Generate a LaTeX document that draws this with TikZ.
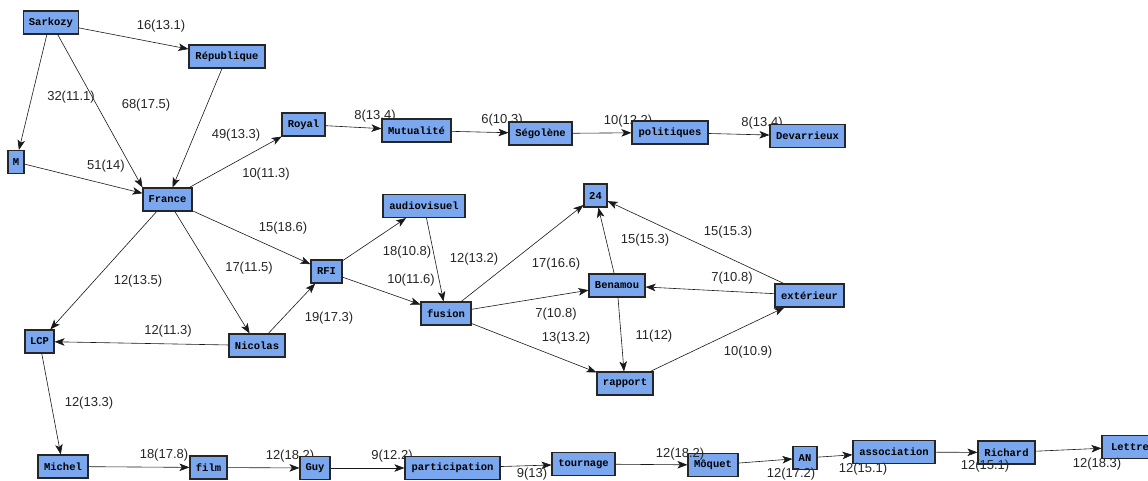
\documentclass[tikz,border=0pt]{standalone}
\usepackage{fontspec}
\setmainfont{Liberation Sans}
\setmonofont{Liberation Mono}
\usetikzlibrary{arrows.meta}
\definecolor{boxblue}{RGB}{122,167,238}
\begin{document}
\begin{tikzpicture}[x=1pt,y=-1pt,
  box/.style={draw=black!85, line width=1.1pt, fill=boxblue, font=\ttfamily\bfseries\fontsize{10.5}{12}\selectfont, minimum height=23pt, inner sep=0pt},
  lab/.style={font=\fontsize{13}{15}\selectfont, inner sep=0pt, text=black!85},
  arr/.style={-{Stealth[length=10pt,width=7.5pt,inset=2.5pt]}, line width=0.6pt, draw=black!90}]
\useasboundingbox (0,0) rectangle (1148,480);
\clip (0,0) rectangle (1148,480);
\fill[white] (0,0) rectangle (1148,480);
% nodes
\node[box, minimum width=55pt] (sarkozy) at (51,22.5) {Sarkozy};
\node[box, minimum width=76pt] (republique) at (227,56.5) {République};
\node[box, minimum width=16pt] (m) at (16,162) {M};
\node[box, minimum width=49pt] (france) at (167.5,199.5) {France};
\node[box, minimum width=43pt] (royal) at (303.5,124.5) {Royal};
\node[box, minimum width=69pt] (mutualite) at (416.5,130.5) {Mutualité};
\node[box, minimum width=63pt] (segolene) at (540.5,133.5) {Ségolène};
\node[box, minimum width=76pt] (politiques) at (670,132.5) {politiques};
\node[box, minimum width=75pt] (devarrieux) at (807.5,136) {Devarrieux};
\node[box, minimum width=82pt] (audiovisuel) at (424,206) {audiovisuel};
\node[box, minimum width=23pt] (n24) at (595.5,195.5) {24};
\node[box, minimum width=31pt] (rfi) at (326.5,271.5) {RFI};
\node[box, minimum width=56pt] (benamou) at (617,285.5) {Benamou};
\node[box, minimum width=69pt] (exterieur) at (809.5,295.5) {extérieur};
\node[box, minimum width=50pt] (fusion) at (446,313.5) {fusion};
\node[box, minimum width=29pt] (lcp) at (39.5,341.5) {LCP};
\node[box, minimum width=56pt] (nicolas) at (257,345.5) {Nicolas};
\node[box, minimum width=56pt] (rapport) at (625,383.5) {rapport};
\node[box, minimum width=50pt] (michel) at (63,466.5) {Michel};
\node[box, minimum width=37pt] (film) at (208.5,467.5) {film};
\node[box, minimum width=30pt] (guy) at (315,468) {Guy};
\node[box, minimum width=95pt] (participation) at (452.5,468) {participation};
\node[box, minimum width=63pt] (tournage) at (583.5,464) {tournage};
\node[box, minimum width=50pt] (moquet) at (713,465) {Môquet};
\node[box, minimum width=24pt] (an) at (805,458) {AN};
\node[box, minimum width=82pt] (association) at (894,452) {association};
\node[box, minimum width=57pt] (richard) at (1006.5,452.5) {Richard};
\node[box, minimum width=56pt] (lettre) at (1130,447) {Lettre};
% edges
\coordinate (s1) at (47,34);
\draw[arr] (sarkozy) -- (republique);
\draw[arr] (s1) -- (m);
\draw[arr] (sarkozy) -- (france.north west) ;
\draw[arr] (republique) -- (france);
\draw[arr] (m) -- (france);
\draw[arr] (france) -- (royal);
\draw[arr] (royal) -- (mutualite);
\draw[arr] (mutualite) -- (segolene);
\draw[arr] (segolene) -- (politiques);
\draw[arr] (politiques) -- (devarrieux);
\draw[arr] (france) -- (rfi);
\draw[arr] (france) -- (nicolas);
\draw[arr] (france) -- (lcp);
\draw[arr] (nicolas) -- (lcp);
\draw[arr] (nicolas) -- (rfi);
\draw[arr] (lcp) -- (michel);
\draw[arr] (rfi) -- (audiovisuel);
\draw[arr] (rfi) -- (fusion);
\draw[arr] (audiovisuel) -- (fusion);
\draw[arr] (fusion) -- (n24);
\draw[arr] (fusion) -- (benamou);
\draw[arr] (fusion) -- (rapport);
\draw[arr] (benamou) -- (n24);
\draw[arr] (exterieur) -- (n24);
\draw[arr] (exterieur) -- (benamou);
\draw[arr] (benamou) -- (rapport);
\draw[arr] (rapport) -- (exterieur);
\draw[arr] (michel) -- (film);
\draw[arr] (film) -- (guy);
\draw[arr] (guy) -- (participation);
\draw[arr] (participation) -- (tournage);
\draw[arr] (tournage) -- (moquet);
\draw[arr] (moquet) -- (an);
\draw[arr] (an) -- (association);
\draw[arr] (association) -- (richard);
\draw[arr] (richard) -- (lettre);
% labels
\node[lab] (l1) at (161,26) {16(13.1)};
\node[lab] (l2) at (71,97) {32(11.1)};
\node[lab] (l3) at (146,105) {68(17.5)};
\node[lab] (l4) at (106,166) {51(14)};
\node[lab] (l5) at (236,135) {49(13.3)};
\node[lab] (l6) at (266,174) {10(11.3)};
\node[lab] (l7) at (375,116) {8(13.4)};
\node[lab] (l8) at (502,120) {6(10.3)};
\node[lab] (l9) at (628,121) {10(12.2)};
\node[lab] (l10) at (762,123) {8(13.4)};
\node[lab] (l11) at (283,228) {15(18.6)};
\node[lab] (l12) at (249,268) {17(11.5)};
\node[lab] (l13) at (138,281) {12(13.5)};
\node[lab] (l14) at (168,331) {12(11.3)};
\node[lab] (l15) at (329,318) {19(17.3)};
\node[lab] (l16) at (407,252) {18(10.8)};
\node[lab] (l17) at (411,280) {10(11.6)};
\node[lab] (l18) at (474,259) {12(13.2)};
\node[lab] (l19) at (556,264) {17(16.6)};
\node[lab] (l20) at (556,314) {7(10.8)};
\node[lab] (l21) at (566,338) {13(13.2)};
\node[lab] (l22) at (645,240) {15(15.3)};
\node[lab] (l23) at (728,232) {15(15.3)};
\node[lab] (l24) at (732,278) {7(10.8)};
\node[lab] (l25) at (654,336) {11(12)};
\node[lab] (l26) at (748,352) {10(10.9)};
\node[lab] (l27) at (89,403) {12(13.3)};
\node[lab] (l28) at (164,455) {18(17.8)};
\node[lab] (l29) at (290,456) {12(18.2)};
\node[lab] (l30) at (392,456) {9(12.2)};
\node[lab] (l31) at (532,474) {9(13)};
\node[lab] (l32) at (680,454) {12(18.2)};
\node[lab] (l33) at (791,474) {12(17.2)};
\node[lab] (l34) at (863,469) {12(15.1)};
\node[lab] (l35) at (985,466) {12(15.1)};
\node[lab] (l36) at (1097,464) {12(18.3)};
% keep boxes above labels where overlapping
\node[box, minimum width=37pt] at (film) {film};
\node[box, minimum width=30pt] at (guy) {Guy};
\node[box, minimum width=69pt] at (mutualite) {Mutualité};
\node[box, minimum width=63pt] at (segolene) {Ségolène};
\node[box, minimum width=75pt] at (devarrieux) {Devarrieux};
\node[box, minimum width=76pt] at (politiques) {politiques};
\node[box, minimum width=95pt] at (participation) {participation};
\end{tikzpicture}
\end{document}
